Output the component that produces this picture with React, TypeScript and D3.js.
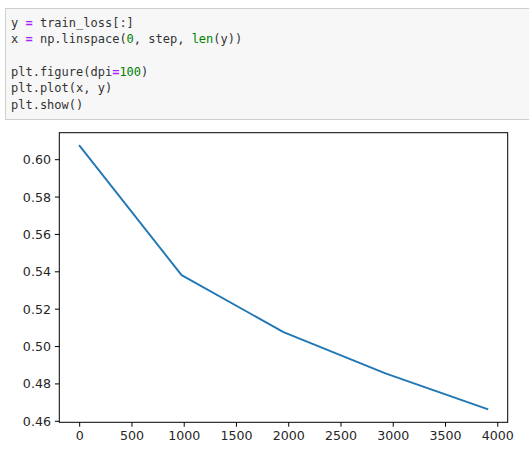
import * as d3 from 'd3'

// loss values, x = linspace(0, step, len(y))
const trainLoss = [0.6074, 0.5382, 0.5077, 0.4856, 0.4665]
const step = 3900
const xTicks = [0, 500, 1000, 1500, 2000, 2500, 3000, 3500, 4000]
const yTicks = [0.46, 0.48, 0.5, 0.52, 0.54, 0.56, 0.58, 0.6]

type Tok = [string, string?]
const codeLines: Tok[][] = [
  [['y '], ['=', 'op'], [' train_loss[:]']],
  [['x '], ['=', 'op'], [' np.linspace('], ['0', 'num'], [', step, '], ['len', 'bi'], ['(y))']],
  [],
  [['plt.figure(dpi'], ['=', 'op'], ['100', 'num'], [')']],
  [['plt.plot(x, y)']],
  [['plt.show()']],
]

const tokColor: Record<string, string> = { op: '#aa22ff', num: '#008000', bi: '#008000' }

export default function App() {
  const W = 529
  const H = 453
  const plot = { left: 59.3, right: 507.7, top: 132.7, bottom: 422.3 }

  const xs = d3.range(trainLoss.length).map((i) => (i * step) / (trainLoss.length - 1))
  const pts = xs.map((x, i) => [x, trainLoss[i]] as [number, number])

  // matplotlib-style 5% auto margins
  const xr = d3.extent(xs) as [number, number]
  const yr = d3.extent(trainLoss) as [number, number]
  const xm = (xr[1] - xr[0]) * 0.05
  const ym = (yr[1] - yr[0]) * 0.05
  const x = d3.scaleLinear().domain([xr[0] - xm, xr[1] + xm]).range([plot.left, plot.right])
  const y = d3.scaleLinear().domain([yr[0] - ym, yr[1] + ym]).range([plot.bottom, plot.top])

  const line = d3
    .line<[number, number]>()
    .x((d) => x(d[0]))
    .y((d) => y(d[1]))

  const tickLen = 4.4
  const fs = 12.6
  const txt = '#262626'

  return (
    <svg
      width={W}
      height={H}
      style={{ position: 'absolute', left: 0, top: 0, background: '#fff' }}
    >
      {/* notebook code cell */}
      <rect x={5.5} y={8.5} width={W + 10} height={111} fill="#f7f7f7" stroke="#cfcfcf" />
      <g fontFamily="'DejaVu Sans Mono', monospace" fontSize={12} fill="#333" style={{ whiteSpace: 'pre' }}>
        {codeLines.map((toks, i) => (
          <text key={i} x={11} y={27 + i * 16.3} xmlSpace="preserve">
            {toks.map((t, j) => (
              <tspan key={j} fill={t[1] ? tokColor[t[1]] : undefined} fontWeight={t[1] === 'op' ? 'bold' : undefined}>
                {t[0]}
              </tspan>
            ))}
          </text>
        ))}
      </g>

      {/* plot */}
      <path d={line(pts) ?? ''} fill="none" stroke="#1f77b4" strokeWidth={1.9} strokeLinecap="square" strokeLinejoin="round" />

      <rect
        x={plot.left}
        y={plot.top}
        width={plot.right - plot.left}
        height={plot.bottom - plot.top}
        fill="none"
        stroke="#000"
        strokeWidth={1}
      />

      <g fontFamily="'DejaVu Sans', sans-serif" fontSize={fs} fill={txt}>
        {xTicks.map((t) => (
          <g key={t} transform={`translate(${x(t)},${plot.bottom})`}>
            <line y2={tickLen} stroke="#000" strokeWidth={1} />
            <text y={tickLen + 4 + fs * 0.76} textAnchor="middle">
              {t}
            </text>
          </g>
        ))}
        {yTicks.map((t) => (
          <g key={t} transform={`translate(${plot.left},${y(t)})`}>
            <line x2={-tickLen} stroke="#000" strokeWidth={1} />
            <text x={-tickLen - 4} dy="0.36em" textAnchor="end">
              {t.toFixed(2)}
            </text>
          </g>
        ))}
      </g>
    </svg>
  )
}
